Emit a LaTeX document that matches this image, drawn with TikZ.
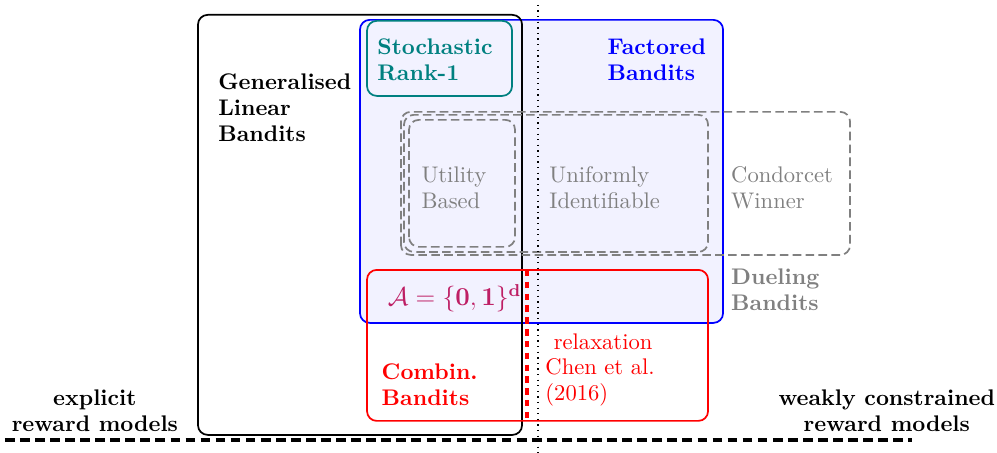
\documentclass[tikz,border=0pt]{standalone}
\usepackage{amsmath}
\definecolor{setpurple}{RGB}{190,30,100}
\newcommand{\boxfont}{\fontsize{10.5pt}{12pt}\selectfont}

\begin{document}
\begin{tikzpicture}[
box/.style = {thick, rounded corners=4.5pt},
duel/.style = {thick, gray, rounded corners=4.5pt, dash pattern=on 4pt off 2pt},
label/.style = {anchor=west, align=left, inner sep=0pt, font=\boxfont\bfseries},
plain/.style = {label, font=\boxfont},
every node/.append style = {inner sep=0pt}]

        \useasboundingbox (0,0) rectangle (16.29,7.40);

        % generalised linear bandits
        \coordinate (GLB_SW) at ( 3.235, 0.294 );
        \coordinate (GLB_NE) at ( 8.530, 7.157 );
        % factored bandits
        \coordinate (FB_SW) at ( 5.882, 2.124 );
        \coordinate (FB_NE) at ( 11.814, 7.075 );
        % stochastic rank-1
        \coordinate (SR_SW) at ( 5.997, 5.833 );
        \coordinate (SR_NE) at ( 8.366, 7.059 );
        % dueling bandits
        \coordinate (CW_SW) at ( 6.552, 3.235 );
        \coordinate (CW_NE) at ( 13.889, 5.572 );
        \coordinate (UI_SW) at ( 6.601, 3.284 );
        \coordinate (UI_NE) at ( 11.569, 5.523 );
        \coordinate (UB_SW) at ( 6.683, 3.366 );
        \coordinate (UB_NE) at ( 8.415, 5.441 );
        % combinatorial bandits
        \coordinate (CB_SW) at ( 5.997, 0.523 );
        \coordinate (CB_NE) at ( 11.569, 2.990 );
        \coordinate (RX_T) at ( 8.611, 2.990 );
        \coordinate (RX_B) at ( 8.611, 0.523 );
        % axes
        \coordinate (MID_T) at ( 8.791, 7.320 );
        \coordinate (MID_B) at ( 8.791, 0 );
        \coordinate (AX_L) at ( 0.08, 0.212 );
        \coordinate (AX_R) at ( 14.90, 0.212 );

        \draw[box,blue,fill=blue!5] (FB_SW) rectangle (FB_NE);
        \draw[box,black] (GLB_SW) rectangle (GLB_NE);
        \draw[box,teal] (SR_SW) rectangle (SR_NE);
        \draw[duel] (CW_SW) rectangle (CW_NE);
        \draw[duel] (UI_SW) rectangle (UI_NE);
        \draw[duel] (UB_SW) rectangle (UB_NE);
        \draw[box,red] (CB_SW) rectangle (CB_NE);
        \draw[red,line width=1.8pt,dash pattern=on 3pt off 2.5pt] (RX_T) -- (RX_B);
        \draw[semithick,dotted] (MID_T) -- (MID_B);
        \draw[line width=1.8pt,dash pattern=on 4.5pt off 2.5pt] (AX_L) -- (AX_R);

        \node[label] (glb) at ( 3.56, 5.637 ) {Generalised\\Linear\\Bandits};
        \node[label,teal] (sr) at ( 6.16, 6.42 ) {Stochastic\\Rank-1};
        \node[label,blue] (fb) at ( 9.92, 6.42 ) {Factored\\Bandits};
        \node[plain,gray] (ub) at ( 6.88, 4.33 ) {Utility\\Based};
        \node[plain,gray] (ui) at ( 8.97, 4.33 ) {Uniformly\\Identifiable};
        \node[plain,gray] (cw) at ( 11.94, 4.33 ) {Condorcet\\Winner};
        \node[label,gray] (db) at ( 11.94, 2.663 ) {Dueling\\Bandits};
        \node[setpurple,font=\fontsize{12pt}{14pt}\selectfont] (set) at ( 7.43, 2.53 ) {$\mathcal{A}=\{\mathbf{0},\mathbf{1}\}^{\mathbf{d}}$};
        \node[label,red] (cb) at ( 6.23, 1.111 ) {Combin.\\Bandits};
        \node[plain,red] (rx) at ( 8.905, 1.356 ) {\hspace*{0.37em}relaxation\\Chen et al.\\(2016)};
        \node[align=center,font=\boxfont\bfseries] (exp) at ( 1.55, 0.686 ) {explicit\\reward models};
        \node[align=center,font=\boxfont\bfseries] (weak) at ( 14.49, 0.686 ) {weakly constrained\\reward models};

    \end{tikzpicture}
\end{document}
